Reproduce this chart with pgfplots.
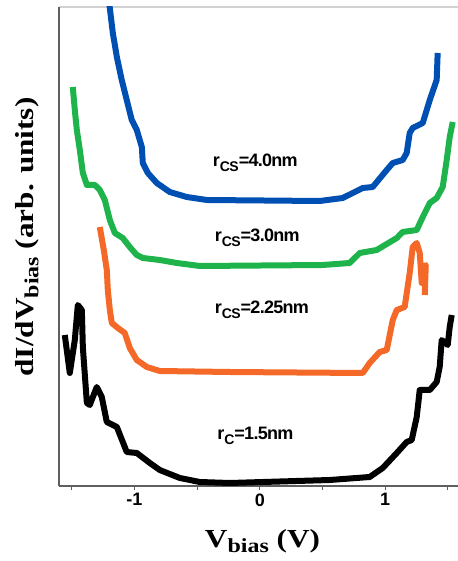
\documentclass[border=0pt]{standalone}
\usepackage{pgfplots}
\pgfplotsset{compat=1.18}
\usepackage{fontspec}
\setmainfont{Liberation Sans}
\newfontfamily\labfont[FakeStretch=1.2]{Liberation Serif}
\newfontfamily\curvefont[LetterSpace=-4]{Liberation Sans}
\definecolor{cblue}{RGB}{0,80,180}
\definecolor{cgreen}{RGB}{30,180,75}
\definecolor{corange}{RGB}{245,105,40}
\definecolor{spine}{RGB}{95,95,95}
\newcommand{\clab}[2]{r\raisebox{-5bp}{\fontsize{14bp}{14bp}\selectfont #1}=#2}
\begin{document}
\begin{tikzpicture}
\useasboundingbox (0,0) rectangle (458bp,561bp);
\draw[gray!35, line width=1.2bp] (59bp,554bp) -- (458bp,554bp);
\begin{axis}[
  at={(59bp,75bp)}, anchor=south west,
  scale only axis, width=399bp, height=479bp,
  xmin=-1.6, xmax=1.58, ymin=0, ymax=479,
  axis x line*=bottom, axis y line*=left,
  axis line style={spine, line width=1.3bp},
  ytick=\empty,
  xtick={-1,0,1}, xticklabels={-1,0,1},
  minor xtick={-1.5,-0.5,0.5,1.5},
  tick align=outside,
  major tick length=4bp, minor tick length=4bp,
  tick style={spine, line width=1bp},
  xticklabel style={font=\bfseries\fontsize{18bp}{18bp}\selectfont},
  xlabel={\labfont\bfseries\fontsize{26bp}{26bp}\selectfont V\raisebox{-5bp}{\fontsize{20bp}{20bp}\selectfont bias} (V)},
  xlabel style={at={(axis description cs:0.51,-0.129)}, anchor=base},
  ylabel={\labfont\bfseries\fontsize{26bp}{26bp}\selectfont dI/dV\raisebox{-5bp}{\fontsize{20bp}{20bp}\selectfont bias} (arb. units)},
  ylabel style={at={(axis description cs:-0.08,0.52)}, anchor=center},
  every axis plot/.append style={line width=6bp, line join=round, no markers},
]
% blue, r_CS = 4.0 nm
\addplot[cblue] coordinates {
(-1.203,486) (-1.195,478) (-1.171,453) (-1.139,429) (-1.100,406) (-1.060,386)
(-1.020,366) (-0.980,356) (-0.940,339) (-0.932,323) (-0.892,313) (-0.821,303)
(-0.717,294) (-0.582,289) (-0.422,286) (0.478,285) (0.661,288) (0.741,293)
(0.821,298) (0.900,299) (1.012,316) (1.060,323) (1.139,326) (1.171,333)
(1.195,353) (1.219,358) (1.299,363) (1.355,386) (1.410,406) (1.418,433)
};
% green, r_CS = 3.0 nm
\addplot[cgreen] coordinates {
(-1.490,399) (-1.474,376) (-1.458,356) (-1.434,336) (-1.410,313) (-1.378,301)
(-1.315,301) (-1.275,296) (-1.235,286) (-1.195,266) (-1.155,253) (-1.092,248)
(-1.036,239) (-0.980,231) (-0.932,228) (-0.797,226) (-0.661,223) (-0.478,220)
(0.502,221) (0.717,223) (0.797,233) (0.932,236) (1.092,248) (1.139,254)
(1.251,256) (1.299,269) (1.355,283) (1.410,288) (1.458,299) (1.490,326)
(1.514,349) (1.538,364)
};
% orange, r_CS = 2.25 nm
\addplot[corange] coordinates {
(-1.275,259) (-1.243,236) (-1.219,216) (-1.211,196) (-1.195,176) (-1.179,163)
(-1.131,158) (-1.076,153) (-1.036,138) (-0.980,126) (-0.900,119) (-0.797,115)
(-0.239,114) (0.821,113) (0.876,123) (0.956,134) (1.012,136) (1.060,166)
(1.092,176) (1.155,179) (1.195,213) (1.219,239) (1.251,243) (1.275,233)
(1.291,203) (1.307,219) (1.323,221) (1.315,191)
};
% black, r_C = 1.5 nm
\addplot[black] coordinates {
(-1.554,151) (-1.514,113) (-1.474,146) (-1.450,181) (-1.418,176) (-1.410,139)
(-1.378,83) (-1.355,81) (-1.299,99) (-1.259,89) (-1.219,64) (-1.139,59)
(-1.060,34) (-0.980,33) (-0.876,23) (-0.797,16) (-0.637,8) (-0.478,4)
(-0.239,3) (0.558,6) (0.876,9) (0.980,18) (1.092,33) (1.171,44)
(1.211,46) (1.251,69) (1.275,96) (1.355,96) (1.410,104) (1.434,119)
(1.450,146) (1.498,141) (1.514,159) (1.530,171)
};
\begin{scope}[every node/.style={anchor=base west, inner sep=0pt, font=\curvefont\bfseries\fontsize{18bp}{18bp}\selectfont}]
\node at (axis cs:-0.375,319) {\clab{CS}{4.0nm}};
\node at (axis cs:-0.36,244) {\clab{CS}{3.0nm}};
\node at (axis cs:-0.36,172) {\clab{CS}{2.25nm}};
\node at (axis cs:-0.34,46) {\clab{C}{1.5nm}};
\end{scope}
\end{axis}
\end{tikzpicture}
\end{document}
